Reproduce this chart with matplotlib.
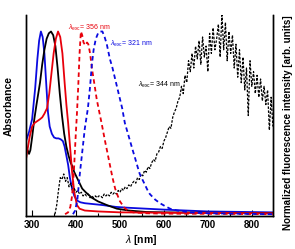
import numpy as np
import matplotlib
matplotlib.use("Agg")
import matplotlib.pyplot as plt
from matplotlib.ticker import MultipleLocator

plt.rcParams['font.family'] = ['Liberation Sans', 'DejaVu Sans']
plt.rcParams['mathtext.fontset'] = 'custom'
plt.rcParams['mathtext.rm'] = 'Liberation Sans'
plt.rcParams['mathtext.it'] = 'Liberation Sans:italic'

# absorbance spectra (solid)
abs_blue_wl = [286, 293, 300, 307, 312, 316, 320, 324, 328, 332, 336, 340, 345, 350, 355, 360, 365,
               370, 374, 378, 382, 386, 391, 396, 402, 410, 420, 440, 460, 490, 520, 560, 600, 650,
               700, 848]
abs_blue = [0.40, 0.45, 0.52, 0.69, 0.85, 0.95, 1.00, 0.97, 0.88, 0.72, 0.56, 0.48, 0.44, 0.42,
            0.415, 0.415, 0.41, 0.40, 0.37, 0.32, 0.27, 0.20, 0.14, 0.10, 0.075, 0.065, 0.06,
            0.055, 0.05, 0.04, 0.035, 0.03, 0.025, 0.02, 0.015, 0.01]

abs_black_wl = [286, 290, 293, 296, 300, 305, 310, 314, 318, 323, 328, 333, 338, 343, 348, 353,
                358, 363, 368, 373, 378, 383, 388, 392, 396, 402, 408, 414, 422, 436, 450, 470,
                493, 520, 560, 600, 848]
abs_black = [0.36, 0.35, 0.33, 0.35, 0.42, 0.52, 0.60, 0.66, 0.72, 0.82, 0.90, 0.96, 0.99, 1.00,
             0.98, 0.92, 0.80, 0.66, 0.54, 0.44, 0.37, 0.32, 0.28, 0.26, 0.23, 0.20, 0.17, 0.14,
             0.12, 0.09, 0.07, 0.05, 0.03, 0.02, 0.012, 0.01, 0.005]

abs_red_wl = [286, 290, 295, 300, 306, 312, 318, 323, 328, 334, 339, 344, 349, 354, 359, 364, 369,
              374, 378, 382, 386, 391, 396, 402, 408, 420, 450, 500, 600, 848]
abs_red = [0.30, 0.36, 0.43, 0.48, 0.50, 0.51, 0.52, 0.53, 0.55, 0.58, 0.66, 0.77, 0.88, 0.96,
           1.00, 0.97, 0.88, 0.72, 0.60, 0.50, 0.38, 0.23, 0.12, 0.05, 0.03, 0.02, 0.015, 0.01,
           0.008, 0.005]

# emission spectra (dashed)
em_red_wl = [375, 382, 387, 391, 395, 399, 402, 405, 408, 411, 414, 417, 421, 425, 428, 432, 436,
             440, 447, 452, 458, 466, 472, 477, 483, 489, 495, 500, 510, 518, 530, 560, 600, 700, 848]
em_red = [0.0, 0.01, 0.04, 0.10, 0.23, 0.42, 0.55, 0.70, 0.88, 1.00, 0.98, 0.94, 0.925, 0.94,
          0.93, 0.88, 0.80, 0.74, 0.63, 0.57, 0.50, 0.40, 0.33, 0.27, 0.20, 0.14, 0.10, 0.07,
          0.035, 0.02, 0.01, 0.005, 0.003, 0.002, 0.0]

em_blue_wl = [393, 398, 403, 409, 415, 420, 427, 432, 436, 440, 445, 450, 455, 460, 465, 470, 477,
              483, 489, 497, 505, 511, 517, 523, 529, 534, 540, 545, 551, 557, 563, 568, 580, 591,
              602, 614, 630, 660, 700, 848]
em_blue = [0.0, 0.02, 0.08, 0.23, 0.36, 0.47, 0.58, 0.70, 0.82, 0.90, 0.96, 0.99, 1.00, 1.00, 0.97,
           0.93, 0.85, 0.80, 0.74, 0.66, 0.58, 0.50, 0.45, 0.40, 0.35, 0.31, 0.26, 0.22, 0.19,
           0.16, 0.13, 0.11, 0.08, 0.06, 0.045, 0.03, 0.02, 0.01, 0.005, 0.0]

# noisy emission, excited at 344 nm
em_black_wl = np.arange(352, 849, 4)
em_black = [0.00, 0.05, 0.13, 0.20, 0.19, 0.22, 0.18, 0.20, 0.15, 0.17, 0.13, 0.14, 0.12, 0.13,
            0.11, 0.12, 0.10, 0.11, 0.10, 0.11, 0.09, 0.10, 0.09, 0.10, 0.09, 0.10, 0.10, 0.09,
            0.11, 0.10, 0.11, 0.10, 0.12, 0.11, 0.12, 0.11, 0.13, 0.12, 0.14, 0.13, 0.15, 0.14,
            0.16, 0.15, 0.17, 0.18, 0.17, 0.20, 0.19, 0.22, 0.21, 0.24, 0.23, 0.26, 0.25, 0.28,
            0.30, 0.29, 0.33, 0.34, 0.37, 0.36, 0.40, 0.42, 0.45, 0.48, 0.47, 0.53, 0.56, 0.58,
            0.62, 0.64, 0.70, 0.66, 0.76, 0.72, 0.84, 0.78, 0.88, 0.80, 0.92, 0.85, 0.95, 0.82,
            0.97, 0.86, 0.92, 0.78, 0.99, 0.88, 1.02, 0.90, 0.96, 1.04, 0.86, 1.10, 0.90, 1.05,
            0.84, 1.00, 0.88, 0.98, 0.80, 0.93, 0.75, 0.90, 0.72, 0.86, 0.68, 0.80, 0.54, 0.84,
            0.70, 0.78, 0.66, 0.76, 0.64, 0.74, 0.62, 0.70, 0.60, 0.68, 0.46, 0.64, 0.48]

labels = [r'$\lambda_{\rm exc}$= 356 nm', r'$\lambda_{\rm exc}$= 321 nm', r'$\lambda_{\rm exc}$= 344 nm']

red = '#e8000b'
blue = '#0a0ae0'

fig = plt.figure(figsize=(2.95, 2.49), dpi=100)
ax = fig.add_axes([0.088, 0.1325, 0.837, 0.807])
ax2 = ax.twinx()

ax.plot(abs_blue_wl, abs_blue, color=blue, lw=1.3)
ax.plot(abs_black_wl, abs_black, color='black', lw=1.3)
ax.plot(abs_red_wl, abs_red, color=red, lw=1.3)

ax2.plot(em_black_wl, em_black, color='black', lw=0.9, ls=(0, (2, 1.2)))
ax2.plot(em_red_wl, em_red, color=red, lw=1.3, ls=(0, (2.5, 1.8)))
ax2.plot(em_blue_wl, em_blue, color=blue, lw=1.3, ls=(0, (2.5, 1.8)))

ax2.text(382, 1.01, labels[0], color=red, fontsize=5)
ax2.text(477, 0.92, labels[1], color=blue, fontsize=5)
ax2.text(541, 0.70, labels[2], color='black', fontsize=5)

for a in (ax, ax2):
    a.set_xlim(286, 848)
    a.set_ylim(-0.01, 1.09)
    a.set_yticks([])
    a.spines['top'].set_visible(False)
    for s in ('left', 'right', 'bottom'):
        a.spines[s].set_linewidth(1.0)

ax.xaxis.set_major_locator(MultipleLocator(100))
ax.xaxis.set_minor_locator(MultipleLocator(50))
ax.tick_params(axis='x', which='major', direction='in', length=4, width=0.8, labelsize=7, pad=3)
ax.tick_params(axis='x', which='minor', direction='in', length=2, width=0.8)
for t in ax.get_xticklabels():
    t.set_fontweight('bold')

ax.set_xlabel(r'$\lambda$ [nm]', fontsize=7.5, fontweight='bold')
ax.xaxis.set_label_coords(0.466, -0.085)
ax.set_ylabel('Absorbance', fontsize=7.5, fontweight='bold')
ax.yaxis.set_label_coords(-0.05, 0.545)
ax2.set_ylabel('Normalized fluorescence intensity [arb. units]', fontsize=7.1,
               fontweight='bold')
ax2.yaxis.set_label_coords(1.04, 0.465)

fig.savefig('out.png', dpi=100)
